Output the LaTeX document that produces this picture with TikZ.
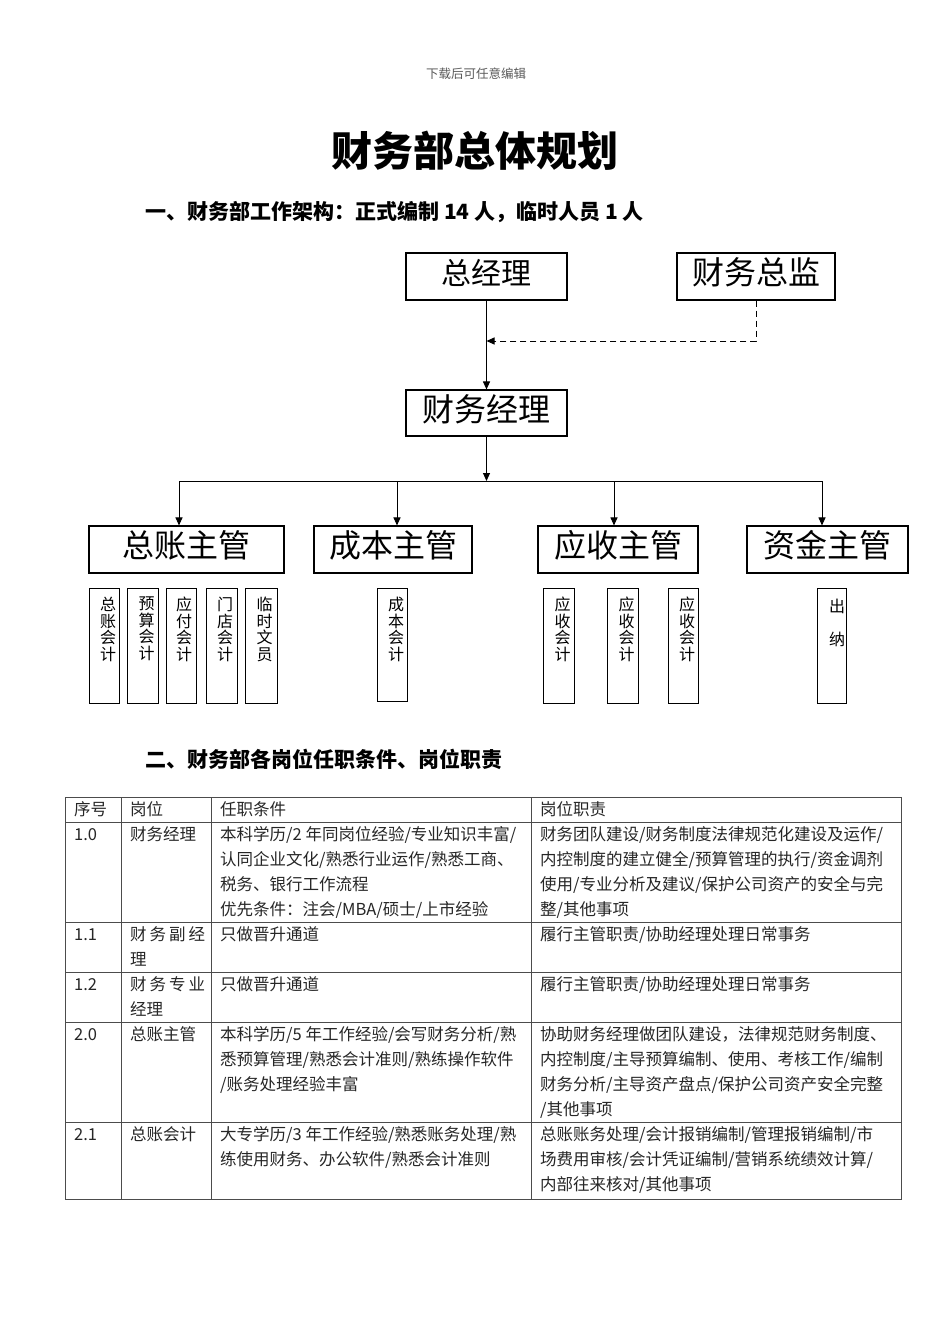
\documentclass[tikz,border=0pt]{standalone}
\usepackage{fontspec}
\setmainfont{Noto Sans CJK SC}
\usetikzlibrary{arrows.meta}
\begin{document}
\begin{tikzpicture}[x=1pt,y=-1pt,
  orgbox/.style={draw=black, line width=1.1pt, inner sep=0pt, font=\fontsize{32}{32}\selectfont, text height=28pt, text depth=12pt, minimum height=47pt},
  subbox/.style={draw=black, line width=1pt, inner sep=0pt, minimum height=115pt},
  vtext/.style={anchor=north, inner sep=0pt, align=center, font=\fontsize{16}{16.5}\selectfont},
  arr/.style={line width=1pt, -{Triangle[length=8pt,width=7pt]}},
  tt/.style={anchor=base west, inner sep=0pt, font=\fontsize{16.5}{16.5}\selectfont, text=black!85},
  grid/.style={line width=0.9pt, draw=black!70},
  heading/.style={anchor=base west, inner sep=0pt, font=\fontsize{21}{21}\selectfont\bfseries}
]
\useasboundingbox (0,0) rectangle (950,1344);

% header and titles
\node[anchor=base, inner sep=0pt, font=\fontsize{12.5}{12.5}\selectfont, text=black!65] (hdr) at (476,78) {下载后可任意编辑};
\node[anchor=base, inner sep=0pt, font=\fontsize{41}{41}\selectfont\bfseries] (title) at (475,166) {财务部总体规划};
\node[heading] (h1) at (145,219) {一、财务部工作架构：正式编制 14 人，临时人员 1 人};
\node[heading] (h2) at (145,767) {二、财务部各岗位任职条件、岗位职责};

% org chart boxes
\node[orgbox, minimum width=161pt, font=\fontsize{30}{30}\selectfont] (gm) at (486.5,276.5) {总经理};
\node[orgbox, minimum width=158pt] (cfo) at (756,276.5) {财务总监};
\node[orgbox, minimum width=161pt, minimum height=46pt] (fm) at (486.5,413) {财务经理};
\node[orgbox, minimum width=195pt] (gl) at (186.5,549.5) {总账主管};
\node[orgbox, minimum width=158pt] (cost) at (393,549.5) {成本主管};
\node[orgbox, minimum width=160pt] (ar) at (618,549.5) {应收主管};
\node[orgbox, minimum width=161pt] (fund) at (827.5,549.5) {资金主管};

% connectors
\coordinate (j1) at (486.5,341);
\draw[arr] (gm.south) -- (fm.north);
\draw[arr, dashed, dash pattern=on 6pt off 4pt] (cfo.south) |- (j1);
\coordinate (bus) at (486.5,481);
\draw[arr] (fm.south) -- (bus);
\coordinate (d1) at (179,481);
\coordinate (d2) at (397,481);
\coordinate (d3) at (614,481);
\coordinate (d4) at (822,481);
\draw[line width=1pt] (d1) -- (d4);
\draw[arr] (d1) -- (d1 |- gl.north);
\draw[arr] (d2) -- (d2 |- cost.north);
\draw[arr] (d3) -- (d3 |- ar.north);
\draw[arr] (d4) -- (d4 |- fund.north);

% third level
\node[subbox, minimum width=30pt] (s1) at (104,645.5) {};
\node[subbox, minimum width=31pt] (s2) at (142.5,645.5) {};
\node[subbox, minimum width=30pt] (s3) at (181,645.5) {};
\node[subbox, minimum width=31pt] (s4) at (221.5,645.5) {};
\node[subbox, minimum width=32pt] (s5) at (261,645.5) {};
\node[subbox, minimum width=30pt, minimum height=113pt] (s6) at (392,644.5) {};
\node[subbox, minimum width=31pt] (s7) at (558.5,645.5) {};
\node[subbox, minimum width=31pt] (s8) at (622.5,645.5) {};
\node[subbox, minimum width=30pt] (s9) at (683,645.5) {};
\node[subbox, minimum width=29pt] (s10) at (831.5,645.5) {};

\node[vtext] (v1) at (108,597) {总\\账\\会\\计};
\node[vtext] (v2) at (146.5,597) {预\\算\\会\\计};
\node[vtext] (v3) at (184,597) {应\\付\\会\\计};
\node[vtext] (v4) at (225,597) {门\\店\\会\\计};
\node[vtext] (v5) at (264.5,597) {临\\时\\文\\员};
\node[vtext] (v6) at (396,597) {成\\本\\会\\计};
\node[vtext] (v7) at (562.5,597) {应\\收\\会\\计};
\node[vtext] (v8) at (626.5,597) {应\\收\\会\\计};
\node[vtext] (v9) at (687,597) {应\\收\\会\\计};
\node[vtext] (v10) at (837,599) {出\\[16pt]纳};

% table grid
\draw[grid] (65,797) rectangle (901,1199);
\foreach \yy in {822,922,972,1022,1122} \draw[grid] (65,\yy) -- (901,\yy);
\foreach \xx in {121,211,531} \draw[grid] (\xx,797) -- (\xx,1199);

% header row
\node[tt] (th1) at (74,815) {序号};
\node[tt] (th2) at (130,815) {岗位};
\node[tt] (th3) at (220,815) {任职条件};
\node[tt] (th4) at (540,815) {岗位职责};

% row 1.0
\node[tt] (a1) at (74,840) {1.0};
\node[tt] (a2) at (130,840) {财务经理};
\node[tt] (a3) at (220,840) {本科学历/2 年同岗位经验/专业知识丰富/};
\node[tt] (a4) at (220,865) {认同企业文化/熟悉行业运作/熟悉工商、};
\node[tt] (a5) at (220,890) {税务、银行工作流程};
\node[tt] (a6) at (220,915) {优先条件：注会/MBA/硕士/上市经验};
\node[tt] (a7) at (540,840) {财务团队建设/财务制度法律规范化建设及运作/};
\node[tt] (a8) at (540,865) {内控制度的建立健全/预算管理的执行/资金调剂};
\node[tt] (a9) at (540,890) {使用/专业分析及建议/保护公司资产的安全与完};
\node[tt] (a10) at (540,915) {整/其他事项};

% row 1.1
\node[tt] (b1) at (74,940) {1.1};
\node[tt] (b2) at (130,940) {\makebox[75pt][s]{财\hfil 务\hfil 副\hfil 经}};
\node[tt] (b3) at (130,965) {理};
\node[tt] (b4) at (220,940) {只做晋升通道};
\node[tt] (b5) at (540,940) {履行主管职责/协助经理处理日常事务};

% row 1.2
\node[tt] (c1) at (74,990) {1.2};
\node[tt] (c2) at (130,990) {\makebox[75pt][s]{财\hfil 务\hfil 专\hfil 业}};
\node[tt] (c3) at (130,1015) {经理};
\node[tt] (c4) at (220,990) {只做晋升通道};
\node[tt] (c5) at (540,990) {履行主管职责/协助经理处理日常事务};

% row 2.0
\node[tt] (d1n) at (74,1040) {2.0};
\node[tt] (d2n) at (130,1040) {总账主管};
\node[tt] (d3n) at (220,1040) {本科学历/5 年工作经验/会写财务分析/熟};
\node[tt] (d4n) at (220,1065) {悉预算管理/熟悉会计准则/熟练操作软件};
\node[tt] (d5n) at (220,1090) {/账务处理经验丰富};
\node[tt] (d6n) at (540,1040) {协助财务经理做团队建设，法律规范财务制度、};
\node[tt] (d7n) at (540,1065) {内控制度/主导预算编制、使用、考核工作/编制};
\node[tt] (d8n) at (540,1090) {财务分析/主导资产盘点/保护公司资产安全完整};
\node[tt] (d9n) at (540,1115) {/其他事项};

% row 2.1
\node[tt] (e1) at (74,1140) {2.1};
\node[tt] (e2) at (130,1140) {总账会计};
\node[tt] (e3) at (220,1140) {大专学历/3 年工作经验/熟悉账务处理/熟};
\node[tt] (e4) at (220,1165) {练使用财务、办公软件/熟悉会计准则};
\node[tt] (e5) at (540,1140) {总账账务处理/会计报销编制/管理报销编制/市};
\node[tt] (e6) at (540,1165) {场费用审核/会计凭证编制/营销系统绩效计算/};
\node[tt] (e7) at (540,1190) {内部往来核对/其他事项};
\end{tikzpicture}
\end{document}
